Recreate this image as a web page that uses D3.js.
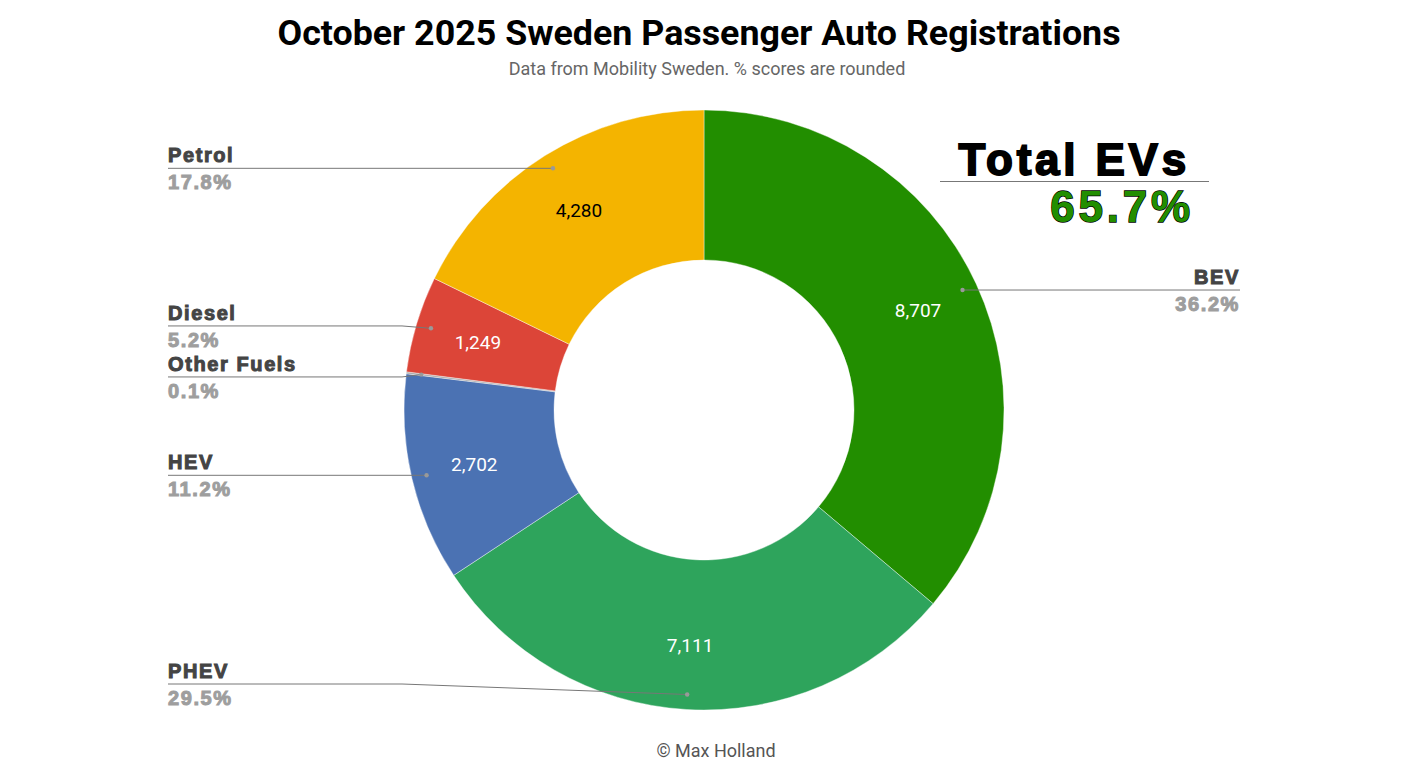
<!DOCTYPE html>
<html><head><meta charset="utf-8">
<script src="https://cdn.jsdelivr.net/npm/d3@7"></script>
<style>
body{margin:0;background:#fff;}
svg{display:block;}
</style></head>
<body>
<svg id="chart" width="1406" height="782"></svg>
<script>
const categories = ["BEV", "PHEV", "HEV", "Other Fuels", "Diesel", "Petrol"];
const values = [8707, 7111, 2702, 24, 1249, 4280];
const percentLabels = ["36.2%", "29.5%", "11.2%", "0.1%", "5.2%", "17.8%"];
const colors = ["#228e00", "#2ea45c", "#4b72b3", "#a8a8a8", "#dc4538", "#f4b400"];
const valueTextColors = ["#fff", "#fff", "#fff", "#fff", "#fff", "#000"];
const totalEVLabel = "65.7%";
const title = "October 2025 Sweden Passenger Auto Registrations";
const subtitle = "Data from Mobility Sweden. % scores are rounded";
const credit = "© Max Holland";

const svg = d3.select("#chart");
const cx = 704, cy = 410, R = 300, r0 = 150;

svg.append("text").attr("x", 699).attr("y", 45).attr("text-anchor", "middle")
  .attr("font-family", "Roboto").attr("font-weight", 700).attr("font-size", 35.8).attr("fill", "#000").text(title);
svg.append("text").attr("x", 707).attr("y", 75).attr("text-anchor", "middle")
  .attr("font-family", "Roboto").attr("font-size", 18).attr("fill", "#666").text(subtitle);
svg.append("text").attr("x", 716).attr("y", 757).attr("text-anchor", "middle")
  .attr("font-family", "Roboto").attr("font-size", 18).attr("fill", "#555").text(credit);

const data = categories.map((c, i) => ({name: c, value: values[i], pct: percentLabels[i], color: colors[i], tc: valueTextColors[i]}));
const pie = d3.pie().value(d => d.value).sort(null);
const arcs = pie(data);
const arc = d3.arc().innerRadius(r0).outerRadius(R);

const g = svg.append("g").attr("transform", `translate(${cx},${cy})`);
g.selectAll("path").data(arcs).join("path")
  .attr("d", arc).attr("fill", d => d.data.color)
  .attr("stroke", "#fff").attr("stroke-width", 0.4);

// value labels
const labelArc = d3.arc().innerRadius(236).outerRadius(236);
g.selectAll("text.val").data(arcs.filter(d => d.data.value > 500)).join("text")
  .attr("class", "val")
  .attr("transform", d => `translate(${labelArc.centroid(d)})`)
  .attr("text-anchor", "middle").attr("dy", "0.35em")
  .attr("font-family", "Roboto").attr("font-size", 19)
  .attr("fill", d => d.data.tc)
  .text(d => d3.format(",")(d.data.value));

// leader points
const dotArc = d3.arc().innerRadius(285).outerRadius(285);
const items = arcs.map(d => {
  const [x, y] = dotArc.centroid(d);
  const mid = (d.startAngle + d.endAngle) / 2;
  return {d, x: x + cx, y: y + cy, right: mid < Math.PI, ly: y + cy};
});

function resolve(list, minGap, maxY) {
  list.sort((a, b) => a.y - b.y);
  for (let iter = 0; iter < 20; iter++) {
    for (let i = 1; i < list.length; i++) {
      const a = list[i - 1], b = list[i];
      if (b.ly - a.ly < minGap) {
        const c = (a.ly + b.ly) / 2;
        a.ly = c - minGap / 2; b.ly = c + minGap / 2;
      }
    }
    list.forEach(it => { if (it.ly > maxY) it.ly = maxY; });
  }
}
resolve(items.filter(it => !it.right), 51, 684);
resolve(items.filter(it => it.right), 51, 684);

const nameFont = "'Liberation Sans', Arial, sans-serif";
items.forEach(it => {
  const left = !it.right;
  const x0 = left ? 168 : 1240;
  const elbow = left ? 402 : 1000;
  const pts = Math.abs(it.ly - it.y) < 0.5
    ? [[x0, it.ly], [it.x, it.y]]
    : [[x0, it.ly], [elbow, it.ly], [it.x, it.y]];
  svg.append("path").attr("d", d3.line()(pts))
    .attr("fill", "none").attr("stroke", "#777").attr("stroke-width", 1);
  svg.append("circle").attr("cx", it.x).attr("cy", it.y).attr("r", 2.2).attr("fill", "#999");
  const anchor = left ? "start" : "end";
  svg.append("text").attr("x", x0).attr("y", it.ly - 6).attr("text-anchor", anchor)
    .attr("font-family", nameFont).attr("font-weight", 700).attr("font-size", 20)
    .attr("letter-spacing", 1.6).attr("fill", "#444").attr("stroke", "#444").attr("stroke-width", 1)
    .text(it.d.data.name);
  svg.append("text").attr("x", x0).attr("y", it.ly + 21).attr("text-anchor", anchor)
    .attr("font-family", nameFont).attr("font-weight", 700).attr("font-size", 20)
    .attr("letter-spacing", 1.6).attr("fill", "#9e9e9e").attr("stroke", "#9e9e9e").attr("stroke-width", 1)
    .text(it.d.data.pct);
});

// Total EVs callout
svg.append("text").attr("x", 1190).attr("y", 175).attr("text-anchor", "end")
  .attr("font-family", nameFont).attr("font-weight", 700).attr("font-size", 44)
  .attr("letter-spacing", 3.8).attr("fill", "#000").attr("stroke", "#000").attr("stroke-width", 1.8)
  .text("Total EVs");
svg.append("line").attr("x1", 940).attr("x2", 1209).attr("y1", 181.5).attr("y2", 181.5)
  .attr("stroke", "#777").attr("stroke-width", 1);
svg.append("text").attr("x", 1194).attr("y", 222).attr("text-anchor", "end")
  .attr("font-family", nameFont).attr("font-weight", 700).attr("font-size", 44)
  .attr("letter-spacing", 3.8).attr("fill", "#228e00").attr("stroke", "#000").attr("stroke-width", 1.4)
  .attr("paint-order", "stroke")
  .text(totalEVLabel);
</script>
</body></html>
